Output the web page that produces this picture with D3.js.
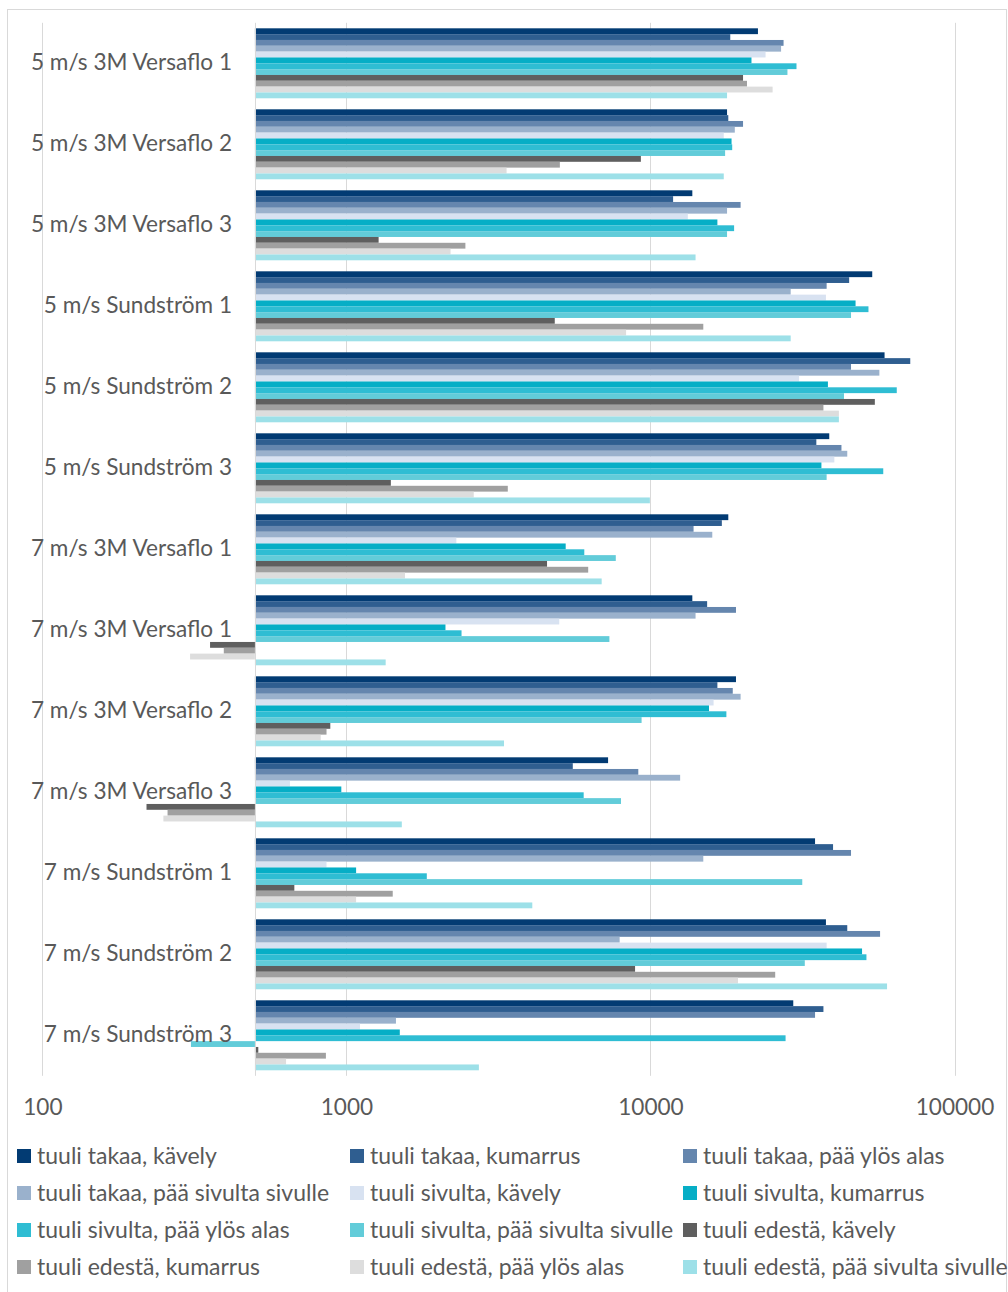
<!DOCTYPE html>
<html>
<head>
<meta charset="utf-8">
<script src="https://cdn.jsdelivr.net/npm/d3@7"></script>
<style>
  html, body { margin: 0; padding: 0; background: #ffffff; }
  svg { display: block; }
  text { font-family: Lato, "Open Sans", "Liberation Sans", sans-serif; fill: #595959; }
</style>
</head>
<body>
<svg id="chart" width="1008" height="1292"></svg>
<script>
// ---- data ----
const categories = [
  "5 m/s 3M Versaflo 1", "5 m/s 3M Versaflo 2", "5 m/s 3M Versaflo 3",
  "5 m/s Sundström 1", "5 m/s Sundström 2", "5 m/s Sundström 3",
  "7 m/s 3M Versaflo 1", "7 m/s 3M Versaflo 1", "7 m/s 3M Versaflo 2",
  "7 m/s 3M Versaflo 3", "7 m/s Sundström 1", "7 m/s Sundström 2",
  "7 m/s Sundström 3"
];

const seriesNames = [
  "tuuli takaa, kävely", "tuuli takaa, kumarrus", "tuuli takaa, pää ylös alas",
  "tuuli takaa, pää sivulta sivulle", "tuuli sivulta, kävely", "tuuli sivulta, kumarrus",
  "tuuli sivulta, pää ylös alas", "tuuli sivulta, pää sivulta sivulle", "tuuli edestä, kävely",
  "tuuli edestä, kumarrus", "tuuli edestä, pää ylös alas", "tuuli edestä, pää sivulta sivulle"
];

const takaaKavely      = [22570, 17860, 13730, 53630, 58880, 38730, 18030, 13730, 19110, 7254, 34780, 37770, 29490];
const takaaKumarrus    = [18300, 18030, 11870, 45030, 71530, 35120, 17170, 15360, 16600, 5553, 39860, 44390, 37060];
const takaaYlosAlas    = [27400, 20160, 19790, 37970, 45670, 42480, 13860, 19110, 18650, 9120, 45670, 56910, 34780];
const takaaSivulle     = [26890, 18940, 17860, 28920, 56610, 44390, 15970, 14070, 19790, 12520, 14920, 7919, 1455];
const sivultaKavely    = [23910, 17420, 13270, 37770, 30820, 40250, 2299, 5012, 16130, 652, 860, 37970, 1108];
const sivultaKumarrus  = [21490, 18480, 16600, 47270, 38340, 36500, 5262, 2117, 15580, 962, 1076, 49650, 1498];
const sivultaYlosAlas  = [30220, 18570, 18840, 52120, 64580, 58300, 6058, 2391, 17770, 6030, 1838, 51330, 27820];
const sivultaSivulle   = [28220, 17600, 17860, 45670, 43300, 37970, 7690, 7327, 9350, 8000, 31570, 32180, 308];
const edestaKavely     = [20160, 9300, 1276, 4844, 54700, 1400, 4569, 356, 885, 220, 674, 8899, 513];
const edestaKumarrus   = [20770, 5035, 2462, 14920, 37060, 3394, 6240, 395, 860, 258, 1420, 25720, 856];
const edestaYlosAlas   = [25220, 3363, 2200, 8315, 41660, 2623, 1558, 306, 823, 250, 1076, 19400, 633];
const edestaSivulle    = [17860, 17420, 14070, 28920, 41660, 9955, 6910, 1346, 3298, 1521, 4086, 60000, 2727];

const seriesValues = [
  takaaKavely, takaaKumarrus, takaaYlosAlas, takaaSivulle,
  sivultaKavely, sivultaKumarrus, sivultaYlosAlas, sivultaSivulle,
  edestaKavely, edestaKumarrus, edestaYlosAlas, edestaSivulle
];

const tickValues = [100, 1000, 10000, 100000];
const axisCross = 500;

const seriesColors = [
  "#023b73", "#2f5e90", "#6586ae", "#9ab1cc",
  "#d8e2f1", "#06aec6", "#2fbdd3", "#62ccd9",
  "#5f5f5f", "#a0a0a0", "#dddddd", "#9de0e8"
];

// ---- layout ----
const svg = d3.select("#chart");
const plotTop = 22.8, plotBottom = 1075.8;

// frame
svg.append("rect")
  .attr("x", 7.5).attr("y", 9.5).attr("width", 999).attr("height", 1290)
  .attr("fill", "none").attr("stroke", "#d9d9d9").attr("stroke-width", 1);

const x = d3.scaleLog().domain([100, 100000]).range([42.4, 954.5]);
const y0 = d3.scaleBand().domain(d3.range(categories.length))
  .range([plotTop, plotBottom]).paddingInner(0.136).paddingOuter(0.068);
const y1 = d3.scaleBand().domain(d3.range(seriesNames.length))
  .range([0, y0.bandwidth()]);

// gridlines
svg.append("g").selectAll("line").data(tickValues).join("line")
  .attr("x1", d => Math.round(x(d)) + 0.5).attr("x2", d => Math.round(x(d)) + 0.5)
  .attr("y1", plotTop).attr("y2", plotBottom)
  .attr("stroke", "#d9d9d9").attr("stroke-width", 1);

// bars
const groups = svg.append("g").selectAll("g").data(categories).join("g")
  .attr("transform", (d, i) => `translate(0,${y0(i)})`);

groups.selectAll("rect")
  .data((d, ci) => seriesValues.map((vals, si) => ({ si, v: vals[ci] })))
  .join("rect")
  .attr("x", d => Math.min(x(d.v), x(axisCross)))
  .attr("width", d => Math.abs(x(d.v) - x(axisCross)))
  .attr("y", d => y1(d.si))
  .attr("height", y1.bandwidth())
  .attr("fill", d => seriesColors[d.si]);

// vertical axis line at crossing
svg.append("line")
  .attr("x1", Math.round(x(axisCross)) + 0.5).attr("x2", Math.round(x(axisCross)) + 0.5)
  .attr("y1", plotTop).attr("y2", plotBottom)
  .attr("stroke", "#d9d9d9").attr("stroke-width", 1);

// category labels
svg.append("g").selectAll("text").data(categories).join("text")
  .attr("x", 232)
  .attr("y", (d, i) => y0(i) + y0.bandwidth() / 2 - 2)
  .attr("text-anchor", "end")
  .attr("dominant-baseline", "central")
  .style("font-size", "22.6px")
  .text(d => d);

// x axis tick labels
const xAxis = d3.axisBottom(x).tickValues(tickValues).tickFormat(d3.format("d")).tickSize(0).tickPadding(0);
const xg = svg.append("g").attr("transform", `translate(0,${plotBottom})`).call(xAxis);
xg.select(".domain").remove();
xg.selectAll("text")
  .attr("y", 31).attr("dy", "0.35em")
  .style("font-size", "22.6px")
  .style("font-family", "Lato, 'Open Sans', sans-serif")
  .attr("fill", "#595959");

// legend
const legendCols = [17, 350, 683];
const legendRows = [1155, 1192, 1229, 1266];
const leg = svg.append("g").selectAll("g").data(seriesNames).join("g")
  .attr("transform", (d, i) => `translate(${legendCols[i % 3]},${legendRows[Math.floor(i / 3)]})`);
leg.append("rect").attr("x", 0).attr("y", -6).attr("width", 14).attr("height", 14)
  .attr("fill", (d, i) => seriesColors[i]);
leg.append("text").attr("x", 20).attr("y", 0)
  .attr("dominant-baseline", "central")
  .style("font-size", "23px")
  .text(d => d);
</script>
</body>
</html>
